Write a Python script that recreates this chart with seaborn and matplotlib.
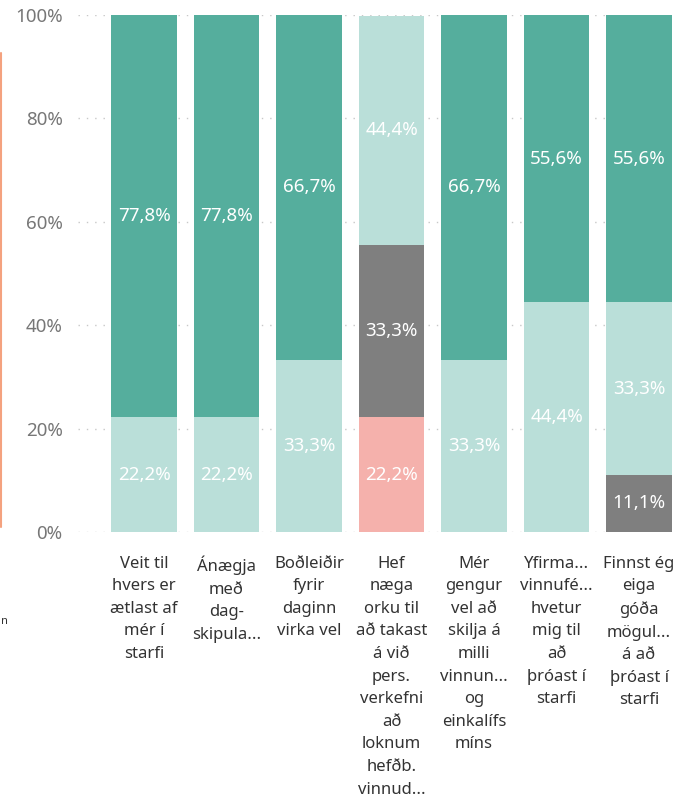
import matplotlib
matplotlib.use("Agg")
import matplotlib.pyplot as plt
import seaborn as sns
import numpy as np
import pandas as pd
from matplotlib.lines import Line2D

categories = [
    "Veit til\nhvers er\nætlast af\nmér í\nstarfi",
    "Ánægja\nmeð\ndag-\nskipula...",
    "Boðleiðir\nfyrir\ndaginn\nvirka vel",
    "Hef\nnæga\norku til\nað takast\ná við\npers.\nverkefni\nað\nloknum\nhefðb.\nvinnud...",
    "Mér\ngengur\nvel að\nskilja á\nmilli\nvinnun...\nog\neinkalífs\nmíns",
    "Yfirma...\nvinnufé...\nhvetur\nmig til\nað\nþróast í\nstarfi",
    "Finnst ég\neiga\ngóða\nmögul...\ná að\nþróast í\nstarfi",
]
# segment shares, bottom to top
salmon = [0, 0, 0, 22.2, 0, 0, 0]
gray = [0, 0, 0, 33.3, 0, 0, 11.1]
light = [22.2, 22.2, 33.3, 44.4, 33.3, 44.4, 33.3]
dark = [77.8, 77.8, 66.7, 0, 66.7, 55.6, 55.6]
yticks = [0, 20, 40, 60, 80, 100]

colors = {"salmon": "#F5B1AC", "gray": "#7F7F7F", "light": "#BADFD9", "dark": "#55AE9D"}

sns.set_theme(style="white")
plt.rcParams["font.family"] = ["Noto Sans", "DejaVu Sans"]

fig = plt.figure(figsize=(6.76, 8.06), dpi=100)
ax = fig.add_axes([78 / 676, 1 - 532 / 806, 598 / 676, 517 / 806])

idx = list(range(len(categories)))
layers = [("salmon", salmon), ("gray", gray), ("light", light), ("dark", dark)]
cum = np.zeros(len(categories))
cums = []
for name, vals in layers:
    bottom = cum.copy()
    cum = cum + np.array(vals)
    cums.append((name, bottom, np.array(vals), cum.copy()))

# draw from the top cumulative downwards
for name, bottom, vals, top in reversed(cums):
    df = pd.DataFrame({"x": idx, "y": top})
    sns.barplot(data=df, x="x", y="y", color=colors[name], saturation=1,
                width=0.79, ax=ax, zorder=2, linewidth=0)

for name, bottom, vals, top in cums:
    for i, v in enumerate(vals):
        if v > 0:
            ax.text(i, bottom[i] + v / 2, f"{v:.1f}%".replace(".", ","),
                    ha="center", va="center", color="white", fontsize=13.5, zorder=3)

ax.set_xlim(-0.8, 6.448)
ax.set_ylim(0, 100)
ax.set_yticks(yticks)
ax.set_yticklabels([f"{t}%" for t in yticks], fontsize=13.5, color="#777777")
ax.set_xticks(idx)
ax.set_xticklabels(categories, fontsize=12, color="#333333", linespacing=1.55, va="top")
ax.tick_params(axis="y", length=0, pad=11)
ax.tick_params(axis="x", length=0, pad=17)
ax.set_xlabel("")
ax.set_ylabel("")
for s in ax.spines.values():
    s.set_visible(False)
ax.yaxis.grid(True, linestyle=(0, (1, 5)), color="#C8C8C8", linewidth=1)
ax.xaxis.grid(False)
ax.set_axisbelow(True)

# left accent line (cropped neighbouring visual)
fig.add_artist(Line2D([1.2 / 676, 1.2 / 676], [1 - 53 / 806, 1 - 527 / 806],
                      color="#F4A27F", linewidth=1.5))
fig.text(0.5 / 676, 1 - 621 / 806, "n", fontsize=8, color="#333333", va="center")

fig.savefig("out.png", dpi=100)
